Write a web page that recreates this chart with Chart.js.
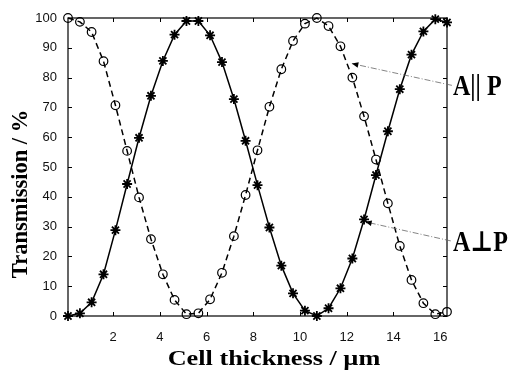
<!DOCTYPE html>
<html>
<head>
<meta charset="utf-8">
<script src="https://cdn.jsdelivr.net/npm/chart.js@4/dist/chart.umd.min.js"></script>
<style>
    body { margin: 0; background: #fff; }
    #wrap { width: 518px; height: 371px; }
</style>
</head>
<body>
<div id="wrap"><canvas id="transChart" width="518" height="371"></canvas></div>
<script>
// cell thickness (um) where both curves were sampled
const thickness = [0.07, 0.58, 1.08, 1.59, 2.10, 2.60, 3.11, 3.62, 4.13, 4.63, 5.14,
    5.65, 6.15, 6.66, 7.17, 7.67, 8.18, 8.69, 9.20, 9.70, 10.21, 10.72, 11.22,
    11.73, 12.24, 12.74, 13.25, 13.76, 14.27, 14.77, 15.28, 15.79, 16.29];

// A perpendicular P, solid line with asterisks
const perpValues = [0, 0.9, 4.6, 14, 28.8, 44.3, 59.8, 73.9, 85.6, 94.4, 99,
    99, 94.2, 85.2, 72.8, 58.8, 43.9, 29.7, 16.9, 7.6, 1.8, 0, 2.6,
    9.3, 19.3, 32.4, 47.3, 62, 76.1, 87.7, 95.5, 99.6, 98.5];

// A parallel P, dashed line with circles
const paraValues = [100, 98.7, 95.3, 85.5, 70.7, 55.4, 39.8, 25.8, 14, 5.4, 0.6,
    0.9, 5.6, 14.5, 26.8, 40.6, 55.6, 70.2, 82.8, 92.3, 98.1, 100, 97.3,
    90.5, 80, 67, 52.5, 37.8, 23.5, 12.1, 4.3, 0.6, 1.4];

const xTicks = [2, 4, 6, 8, 10, 12, 14, 16];
const yTicks = [0, 10, 20, 30, 40, 50, 60, 70, 80, 90, 100];

// labels on the right with the point their arrow goes to
const arrowLabels = ['A|| P', 'A\u22A5P'];
const arrowTips = [{x: 12.22, y: 84.7}, {x: 12.79, y: 31.6}];
const arrowTails = [{x: 16.5, y: 77.4}, {x: 16.45, y: 25.2}];

function toPoints(xs, ys) {
    let pts = [];
    for (let i = 0; i < xs.length; i++) {
        pts.push({x: xs[i], y: ys[i]});
    }
    return pts;
}

const framePlugin = {
    id: 'frame',
    afterDraw(chart) {
        const c = chart.ctx;
        const a = chart.chartArea;
        const xs = chart.scales.x;
        const ys = chart.scales.y;
        c.save();
        c.strokeStyle = '#000';
        c.lineWidth = 1.2;
        c.strokeRect(a.left, a.top, a.right - a.left, a.bottom - a.top);
        // inward ticks on all four sides
        c.lineWidth = 1;
        c.beginPath();
        for (let i = 0; i < xTicks.length; i++) {
            const px = Math.round(xs.getPixelForValue(xTicks[i])) + 0.5;
            c.moveTo(px, a.bottom); c.lineTo(px, a.bottom - 4);
            c.moveTo(px, a.top); c.lineTo(px, a.top + 4);
        }
        for (let i = 0; i < yTicks.length; i++) {
            const py = Math.round(ys.getPixelForValue(yTicks[i])) + 0.5;
            c.moveTo(a.left, py); c.lineTo(a.left + 4, py);
            c.moveTo(a.right, py); c.lineTo(a.right - 4, py);
        }
        c.stroke();

        // axis titles
        c.fillStyle = '#000';
        c.font = "bold 21px 'Liberation Serif'";
        c.textAlign = 'center';
        c.textBaseline = 'alphabetic';
        c.save();
        c.translate(274, 365);
        c.scale(1.25, 1);
        c.fillText('Cell thickness / \u00B5m', 0, 0);
        c.restore();

        c.save();
        c.font = "bold 22.5px 'Liberation Serif'";
        c.translate(27, 194);
        c.rotate(-Math.PI / 2);
        c.fillText('Transmission / %', 0, 0);
        c.restore();

        // arrows and their labels
        for (let i = 0; i < arrowLabels.length; i++) {
            const tx = xs.getPixelForValue(arrowTips[i].x);
            const ty = ys.getPixelForValue(arrowTips[i].y);
            const sx = xs.getPixelForValue(arrowTails[i].x);
            const sy = ys.getPixelForValue(arrowTails[i].y);
            c.strokeStyle = '#666';
            c.lineWidth = 0.8;
            c.setLineDash([6, 2, 1, 2]);
            c.beginPath();
            c.moveTo(sx, sy);
            c.lineTo(tx, ty);
            c.stroke();
            c.setLineDash([]);
            const ang = Math.atan2(ty - sy, tx - sx);
            c.fillStyle = '#000';
            c.beginPath();
            c.moveTo(tx, ty);
            c.lineTo(tx - 7 * Math.cos(ang - 0.4), ty - 7 * Math.sin(ang - 0.4));
            c.lineTo(tx - 7 * Math.cos(ang + 0.4), ty - 7 * Math.sin(ang + 0.4));
            c.closePath();
            c.fill();

            c.save();
            c.font = "bold 24px 'Liberation Serif', 'DejaVu Serif'";
            c.textAlign = 'left';
            c.translate(453, sy + 10);
            c.scale(1, 1.2);
            c.fillText(arrowLabels[i], 0, 0);
            c.restore();
        }
        c.restore();
    }
};

const ctx = document.getElementById('transChart').getContext('2d');

const chart = new Chart(ctx, {
    type: 'scatter',
    data: {
        datasets: [{
                label: 'A perp P',
                data: toPoints(thickness, perpValues),
                showLine: true,
                borderColor: '#000',
                borderWidth: 1.5,
                pointStyle: 'star',
                pointRadius: 5,
                pointBorderColor: '#000',
                pointBorderWidth: 1.8,
                pointBackgroundColor: '#000',
                clip: false
            },
            {
                label: 'A par P',
                data: toPoints(thickness, paraValues),
                showLine: true,
                borderColor: '#000',
                borderWidth: 1.5,
                borderDash: [6, 4],
                pointStyle: 'circle',
                pointRadius: 4.3,
                pointBorderColor: '#000',
                pointBorderWidth: 1.2,
                pointBackgroundColor: 'rgba(0,0,0,0)',
                clip: false
            }]
    },
    options: {
        responsive: false,
        animation: false,
        events: [],
        layout: {
            padding: {top: 18, right: 71, left: 0, bottom: 0}
        },
        plugins: {
            legend: { display: false },
            tooltip: { enabled: false }
        },
        scales: {
            x: {
                type: 'linear',
                min: 0.07,
                max: 16.29,
                grid: { display: false },
                border: { display: false },
                afterBuildTicks: (scale) => {
                    scale.ticks = xTicks.map(v => ({value: v}));
                },
                afterFit: (scale) => { scale.height = 55; },
                ticks: {
                    color: '#111',
                    padding: 6,
                    maxRotation: 0,
                    font: { family: "'Liberation Sans'", size: 13 }
                }
            },
            y: {
                min: 0,
                max: 100,
                grid: { display: false },
                border: { display: false },
                afterBuildTicks: (scale) => {
                    scale.ticks = yTicks.map(v => ({value: v}));
                },
                afterFit: (scale) => { scale.width = 68; },
                ticks: {
                    color: '#111',
                    padding: 3,
                    font: { family: "'Liberation Sans'", size: 13 }
                }
            }
        }
    },
    plugins: [framePlugin]
});
</script>
</body>
</html>
